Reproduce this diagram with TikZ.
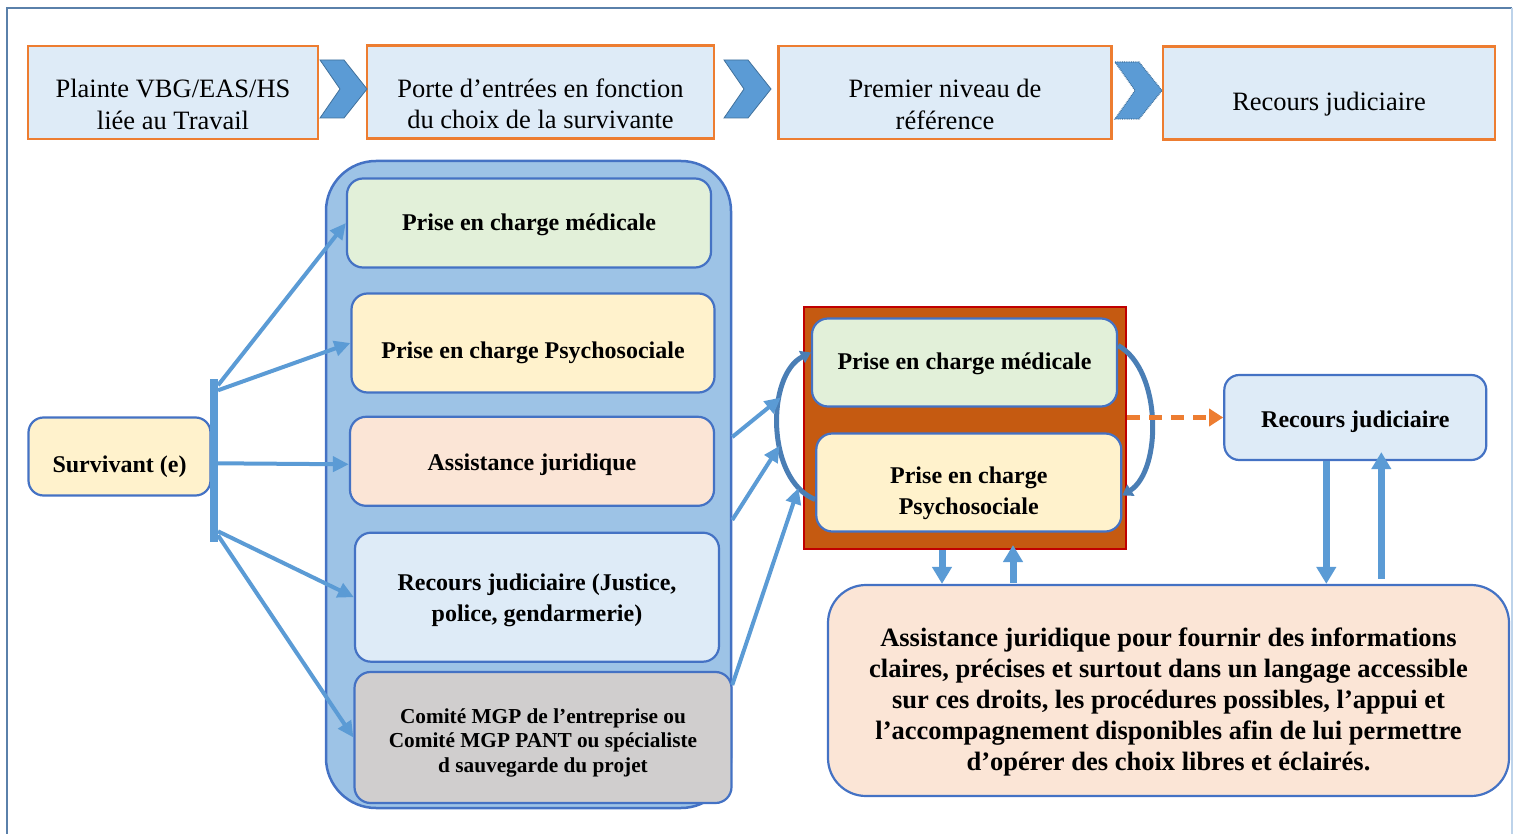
\documentclass[tikz,border=0pt]{standalone}
\usepackage{fontspec}
\setmainfont{Liberation Serif}
\usetikzlibrary{arrows.meta}
\definecolor{topfill}{HTML}{DEEBF7}
\definecolor{toporange}{HTML}{ED7D31}
\definecolor{flowblue}{HTML}{5B9BD5}
\definecolor{edgeblue}{HTML}{4472C4}
\definecolor{darkblue}{HTML}{41719C}
\definecolor{arcblue}{HTML}{4A7EB5}
\definecolor{boxblue}{HTML}{9DC3E6}
\definecolor{medgreen}{HTML}{E2F0D9}
\definecolor{psyyellow}{HTML}{FFF2CC}
\definecolor{jurpeach}{HTML}{FBE5D6}
\definecolor{mgpgray}{HTML}{D0CECE}
\definecolor{rustbox}{HTML}{C55A11}
\definecolor{redline}{HTML}{C00000}
\definecolor{frameline}{HTML}{5A80AA}
\definecolor{framelight}{HTML}{BDD3EA}
\newcommand{\ftop}{\fontsize{26.5}{31.5}\selectfont}
\newcommand{\fgras}{\fontsize{24}{31}\selectfont\bfseries}
\newcommand{\fgrand}{\fontsize{26.5}{31}\selectfont\bfseries}
\newcommand{\fmgp}{\fontsize{21.3}{24.5}\selectfont\bfseries}

\begin{document}
\begin{tikzpicture}[x=1pt,y=-1pt,
  etape/.style={draw=toporange,line width=2.5pt,fill=topfill,inner sep=0pt},
  soin/.style={draw=edgeblue,line width=2.2pt,rounded corners=16pt,inner sep=0pt},
  texte/.style n args={3}{label={[align=center,font=#1,yshift=-#2]center:{#3}}},
  lien/.style={flowblue,line width=4pt,-{Triangle[length=16pt,width=15pt]}},
  flux/.style={flowblue,line width=7pt,-{Triangle[length=17pt,width=19pt]}},
  boucle/.style={arcblue,line width=5pt,-{Triangle[length=10pt,width=13pt]}},
  chevron/.style={fill=flowblue,draw=darkblue,line width=0.8pt}]
  \useasboundingbox (0,0) rectangle (1515,834);
  \draw[frameline,line width=2pt] (7,834) -- (7,8) -- (1512,8);
  \draw[framelight,line width=1.5pt] (1512,8) -- (1512,834);

  % top row
  \node[etape,minimum width=290pt,minimum height=93pt,
    texte={\ftop}{12pt}{Plainte VBG/EAS/HS\\liée au Travail}] (b1) at (173,92.5) {};
  \node[etape,minimum width=347pt,minimum height=93pt,
    texte={\ftop}{12pt}{Porte d’entrées en fonction\\du choix de la survivante}] (b2) at (540.5,92) {};
  \node[etape,minimum width=333pt,minimum height=93pt,
    texte={\ftop}{12pt}{Premier niveau de\\référence}] (b3) at (945,92.5) {};
  \node[etape,minimum width=332pt,minimum height=93pt,
    texte={\ftop}{11pt}{Recours judiciaire}] (b4) at (1329,93) {};
  \foreach \cx/\cy in {320/60,724/60}{
    \draw[chevron] (\cx,\cy) -- ++(24,0) -- ++(23,29) -- ++(-23,29) -- ++(-24,0) -- ++(20,-29) -- cycle;
  }
  \draw[chevron,densely dotted,line width=1.2pt] (1115,62) -- ++(24,0) -- ++(23,28.5) -- ++(-23,28.5)
    -- ++(-24,0) -- ++(20,-28.5) -- cycle;

  % entry points
  \node[draw=edgeblue,line width=2.5pt,fill=boxblue,rounded corners=50pt,
    minimum width=405pt,minimum height=647pt] (entree) at (528.5,484.5) {};
  \node[soin,fill=medgreen,minimum width=364pt,minimum height=89pt,
    texte={\fgras}{2pt}{Prise en charge médicale}] (m1) at (529,223) {};
  \node[soin,fill=psyyellow,minimum width=363pt,minimum height=99pt,
    texte={\fgras}{10pt}{Prise en charge Psychosociale}] (m2) at (533,343) {};
  \node[soin,fill=jurpeach,minimum width=364pt,minimum height=89pt,
    texte={\fgras}{3pt}{Assistance juridique}] (m3) at (532,461.3) {};
  \node[soin,fill=topfill,minimum width=364pt,minimum height=129pt,
    texte={\fgras}{3pt}{Recours judiciaire (Justice,\\police, gendarmerie)}] (m4) at (537,597.2) {};
  \node[soin,fill=mgpgray,minimum width=377pt,minimum height=131pt,
    texte={\fmgp}{5pt}{Comité MGP de l’entreprise ou\\Comité MGP PANT ou spécialiste\\d sauvegarde du projet}] (m5) at (543,737.5) {};

  % survivor
  \node[soin,rounded corners=15pt,fill=psyyellow,minimum width=182pt,minimum height=78pt,
    texte={\fgras}{10.5pt}{Survivant (e)}] (surv) at (119.5,456.5) {};
  \node[fill=flowblue,inner sep=0pt,minimum width=8pt,minimum height=163pt] (bar) at (213.8,460.3) {};
  \draw[lien] ([yshift=75pt]bar.east) -- (m1.west);
  \draw[lien] ([yshift=70pt]bar.east) -- (m2.west);
  \draw[lien] ([yshift=-3pt]bar.east) -- ([yshift=-3pt]m3.west);
  \draw[lien] ([yshift=-71pt]bar.east) -- (m4.west);
  \draw[lien] ([yshift=-75pt]bar.east) -- (m5.west);

  % first level of referral
  \node[draw=redline,line width=2pt,fill=rustbox,minimum width=322pt,minimum height=242pt] (org) at (965,428) {};
  \node[soin,fill=medgreen,minimum width=305pt,minimum height=88pt,
    texte={\fgras}{1.5pt}{Prise en charge médicale}] (c1) at (964.5,362.5) {};
  \node[soin,fill=psyyellow,minimum width=305pt,minimum height=98pt,
    texte={\fgras}{10.5pt}{Prise en charge\\Psychosociale}] (c2) at (968.8,482.5) {};
  \draw[boucle] ([yshift=-17pt]c2.west) .. controls (766,480) and (766,375) .. ([yshift=10pt]c1.west)
    coordinate[pos=0.13] (g3) coordinate[pos=0.4] (g2) coordinate[pos=0.66] (g1);
  \draw[boucle] ([yshift=17pt]c1.east) .. controls (1162,370) and (1162,470) .. ([yshift=-13pt]c2.east);
  \draw[lien] ([yshift=47.5pt]entree.east) -- (g1);
  \draw[lien] ([yshift=-35.5pt]entree.east) -- (g2);
  \draw[lien] ([yshift=-200.5pt]entree.east) -- (g3);

  % legal recourse
  \node[soin,fill=topfill,rounded corners=15pt,minimum width=262pt,minimum height=85pt,
    texte={\fgras}{4pt}{Recours judiciaire}] (recours) at (1355.3,417.5) {};
  \draw[toporange,line width=5pt,dash pattern=on 13pt off 9pt,-{Triangle[length=14pt,width=17pt]}]
    (org.east |- recours.west) -- (recours.west);
  \node[soin,fill=jurpeach,rounded corners=38pt,minimum width=681pt,minimum height=211pt,
    texte={\fgrand}{11pt}{Assistance juridique pour fournir des informations\\claires, précises et surtout dans un langage accessible\\sur ces droits, les procédures possibles, l’appui et\\l’accompagnement disponibles afin de lui permettre\\d’opérer des choix libres et éclairés.}] (aide) at (1168.5,690.5) {};

  \coordinate (d1) at ([xshift=-23pt]org.south);
  \coordinate (u1) at ([xshift=48pt,yshift=5pt]org.south);
  \coordinate (d2) at ([xshift=-29pt]recours.south);
  \coordinate (u2) at ([xshift=26pt,yshift=9pt]recours.south);
  \draw[flux] (d1) -- (d1 |- aide.north);
  \draw[flux] ([yshift=1pt]u1 |- aide.north) -- (u1);
  \draw[flux] (d2) -- (d2 |- aide.north);
  \draw[flux] ([yshift=5pt]u2 |- aide.north) -- (u2);
\end{tikzpicture}
\end{document}
